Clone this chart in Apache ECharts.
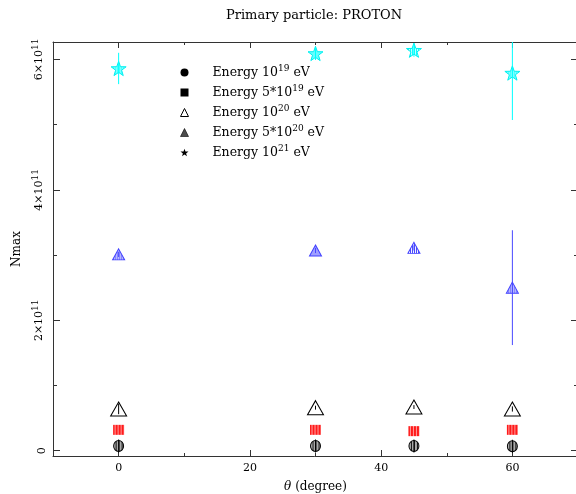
<!DOCTYPE html>
<html>
<head>
<meta charset="utf-8">
<script src="https://cdn.jsdelivr.net/npm/echarts@6/dist/echarts.min.js"></script>
<style>
  html, body { margin: 0; padding: 0; background: #fff; }
  #main { width: 576px; height: 494px; }
</style>
</head>
<body>
<div id="main"></div>
<script>
// data
var angles = [0, 30, 45, 60];
var nmax19 = [7.2e9, 7.2e9, 7.2e9, 6.8e9];
var err19 = [1.0e10, 1.0e10, 1.0e10, 1.0e10];
var nmax5x19 = [3.2e10, 3.2e10, 3.0e10, 3.2e10];
var err5x19 = [0, 0, 0, 0];
var nmax20 = [6.4e10, 6.6e10, 6.7e10, 6.4e10];
var err20 = [8e9, 3e9, 3e9, 4e9];
var nmax5x20 = [3.01e11, 3.07e11, 3.11e11, 2.50e11];
var err5x20 = [4e9, 4e9, 4e9, 8.8e10];
var nmax21 = [5.86e11, 6.09e11, 6.14e11, 5.79e11];
var err21 = [2.4e10, 1e10, 1e10, 7.2e10];

var xMajor = [0, 20, 40, 60];
var xMinor = [10, 30, 50];
var yMajor = [0, 2e11, 4e11, 6e11];
var yMinor = [1e11, 3e11, 5e11];

var serif = 'DejaVu Serif';
var starPath = 'path://M0,-10L2.35,-3.24L9.51,-3.09L3.8,1.24L5.88,8.09L0,4L-5.88,8.09L-3.8,1.24L-9.51,-3.09L-2.35,-3.24Z';

// striped fill like the hatched markers
// symbols are drawn at unit size and scaled, so undo that scale on the pattern
function stripes(c1, c2, w1, w2, sw, sh) {
  var cv = document.createElement('canvas')
  cv.width = w1 + w2
  cv.height = 2
  var ctx = cv.getContext('2d')
  ctx.fillStyle = c1
  ctx.fillRect(0, 0, w1, 2)
  ctx.fillStyle = c2
  ctx.fillRect(w1, 0, w2, 2)
  return { image: cv, repeat: 'repeat', scaleX: 2 / sw, scaleY: 2 / sh }
}

function pts(vals) {
  return angles.map(function (a, i) { return [a, vals[i]] })
}
function errPts(vals, errs) {
  return angles.map(function (a, i) { return [a, vals[i], errs[i]] })
}
function errSeries(vals, errs, color) {
  return {
    type: 'custom',
    clip: true,
    z: 5,
    data: errPts(vals, errs),
    renderItem: function (params, api) {
      var x = api.value(0), v = api.value(1), e = api.value(2)
      var p1 = api.coord([x, v - e])
      var p2 = api.coord([x, v + e])
      return {
        type: 'line',
        shape: { x1: p1[0], y1: p1[1], x2: p2[0], y2: p2[1] },
        style: { stroke: color, lineWidth: 1 }
      }
    }
  }
}

var legendText = {
  e19: ['10', '19'],
  e5x19: ['5*10', '19'],
  e20: ['10', '20'],
  e5x20: ['5*10', '20'],
  e21: ['10', '21']
};

var axisColor = '#333';

function xAxisDef(pos, ticks, len, main) {
  return {
    type: 'value', min: -10, max: 70, position: pos,
    axisLine: { show: main, onZero: false, lineStyle: { color: axisColor } },
    axisTick: { inside: true, length: len, customValues: ticks, lineStyle: { color: axisColor } },
    axisLabel: { show: false },
    splitLine: { show: false }
  }
}
function yAxisDef(pos, ticks, len) {
  return {
    type: 'value', min: -8.1e9, max: 6.266e11, position: pos,
    axisLine: { show: false, onZero: false },
    axisTick: { inside: true, length: len, customValues: ticks, lineStyle: { color: axisColor } },
    axisLabel: { show: false },
    splitLine: { show: false }
  }
}

var xBottom = xAxisDef('bottom', xMajor, 6, true);
xBottom.axisLabel = {
  show: true, customValues: xMajor, margin: 7,
  fontFamily: serif, fontSize: 11, color: '#000'
};
xBottom.name = '{i|θ} (degree)';
xBottom.nameLocation = 'middle';
xBottom.nameGap = 25;
xBottom.nameTextStyle = {
  fontFamily: serif, fontSize: 12, color: '#000',
  rich: { i: { fontFamily: serif, fontStyle: 'italic', fontSize: 12, color: '#000' } }
};

var yLeft = yAxisDef('left', yMajor, 7);
yLeft.axisLine = { show: true, onZero: false, lineStyle: { color: axisColor } };
yLeft.axisLabel = {
  show: true, customValues: yMajor, rotate: 90, margin: 5,
  fontFamily: serif, fontSize: 11, color: '#000',
  formatter: function (v) {
    if (v === 0) return '{n|0}'
    return '{n|' + Math.round(v / 1e11) + '×10}{s|11}'
  },
  rich: {
    n: { fontFamily: serif, fontSize: 11, color: '#000' },
    s: { fontFamily: serif, fontSize: 9, color: '#000', padding: [0, 0, 8, 0] }
  }
};
yLeft.name = 'Nmax';
yLeft.nameLocation = 'middle';
yLeft.nameGap = 29;
yLeft.nameTextStyle = { fontFamily: serif, fontSize: 12, color: '#000' };

var option = {
  animation: false,
  backgroundColor: '#fff',
  title: {
    text: 'Primary particle: PROTON',
    left: 226, top: 9, padding: 0,
    textStyle: { fontFamily: serif, fontSize: 13, fontWeight: 'normal', color: '#000' }
  },
  grid: { left: 53, right: -2, top: 42, bottom: 38, containLabel: false, outerBoundsMode: 'none' },
  legend: {
    orient: 'vertical', left: 180, top: 64, padding: 0,
    itemWidth: 8, itemHeight: 8, itemGap: 5,
    data: [
      { name: 'e19', icon: 'circle', itemStyle: { color: '#000', borderWidth: 0 } },
      { name: 'e5x19', icon: 'rect', itemStyle: { color: '#000', borderWidth: 0 } },
      { name: 'e20', icon: 'triangle', itemStyle: { color: '#fff', borderColor: '#000', borderWidth: 1 } },
      { name: 'e5x20', icon: 'triangle', itemStyle: { color: stripes('#000', '#999', 1, 1, 8, 8), borderColor: '#000', borderWidth: 0.6 } },
      { name: 'e21', icon: starPath, itemStyle: { color: '#000', borderColor: '#000', borderWidth: 0 } }
    ],
    formatter: function (name) {
      var t = legendText[name]
      return '{g|}{a|Energy ' + t[0] + '}{s|' + t[1] + '}{a| eV}'
    },
    textStyle: {
      color: '#000',
      rich: {
        g: { width: 19 },
        a: { fontFamily: serif, fontSize: 12.5, color: '#000', lineHeight: 15 },
        s: { fontFamily: serif, fontSize: 9, color: '#000', padding: [0, 0, 8, 0] }
      }
    }
  },
  xAxis: [
    xBottom,
    xAxisDef('bottom', xMinor, 3, false),
    xAxisDef('top', xMajor, 6, true),
    xAxisDef('top', xMinor, 3, false)
  ],
  yAxis: [
    yLeft,
    yAxisDef('left', yMinor, 4),
    yAxisDef('right', yMajor, 7),
    yAxisDef('right', yMinor, 4)
  ],
  series: [
    {
      name: 'e19', type: 'scatter', data: pts(nmax19),
      symbol: 'circle', symbolSize: [10, 11],
      itemStyle: { color: stripes('#111', '#aaa', 1, 2, 10, 11), borderColor: '#000', borderWidth: 1, opacity: 1 }
    },
    errSeries(nmax19, err19, '#000'),
    {
      name: 'e5x19', type: 'scatter', data: pts(nmax5x19),
      symbol: 'rect', symbolSize: [11, 10],
      itemStyle: { color: stripes('#ff1a1a', '#ff9a9a', 2, 1, 11, 10), opacity: 1 }
    },
    errSeries(nmax5x19, err5x19, '#ff1a1a'),
    {
      name: 'e20', type: 'scatter', data: pts(nmax20),
      symbol: 'triangle', symbolSize: [16, 14],
      itemStyle: { color: '#fff', borderColor: '#000', borderWidth: 1, opacity: 1 }
    },
    errSeries(nmax20, err20, '#000'),
    {
      name: 'e5x20', type: 'scatter', data: pts(nmax5x20),
      symbol: 'triangle', symbolSize: [12, 11],
      itemStyle: { color: stripes('#4040ff', '#fff', 1, 1, 12, 11), borderColor: '#4040ff', borderWidth: 1, opacity: 1 }
    },
    errSeries(nmax5x20, err5x20, '#4848ff'),
    {
      name: 'e21', type: 'scatter', data: pts(nmax21),
      symbol: starPath, symbolSize: 15, symbolKeepAspect: true,
      itemStyle: { color: stripes('#00ffff', '#c8ffff', 1, 1, 15, 15), borderColor: '#00f0f0', borderWidth: 1, opacity: 1 }
    },
    errSeries(nmax21, err21, '#00ffff')
  ]
};

var myChart = echarts.init(document.getElementById('main'));
myChart.setOption(option);
window.addEventListener('resize', function () {
  myChart.resize()
});
</script>
</body>
</html>
